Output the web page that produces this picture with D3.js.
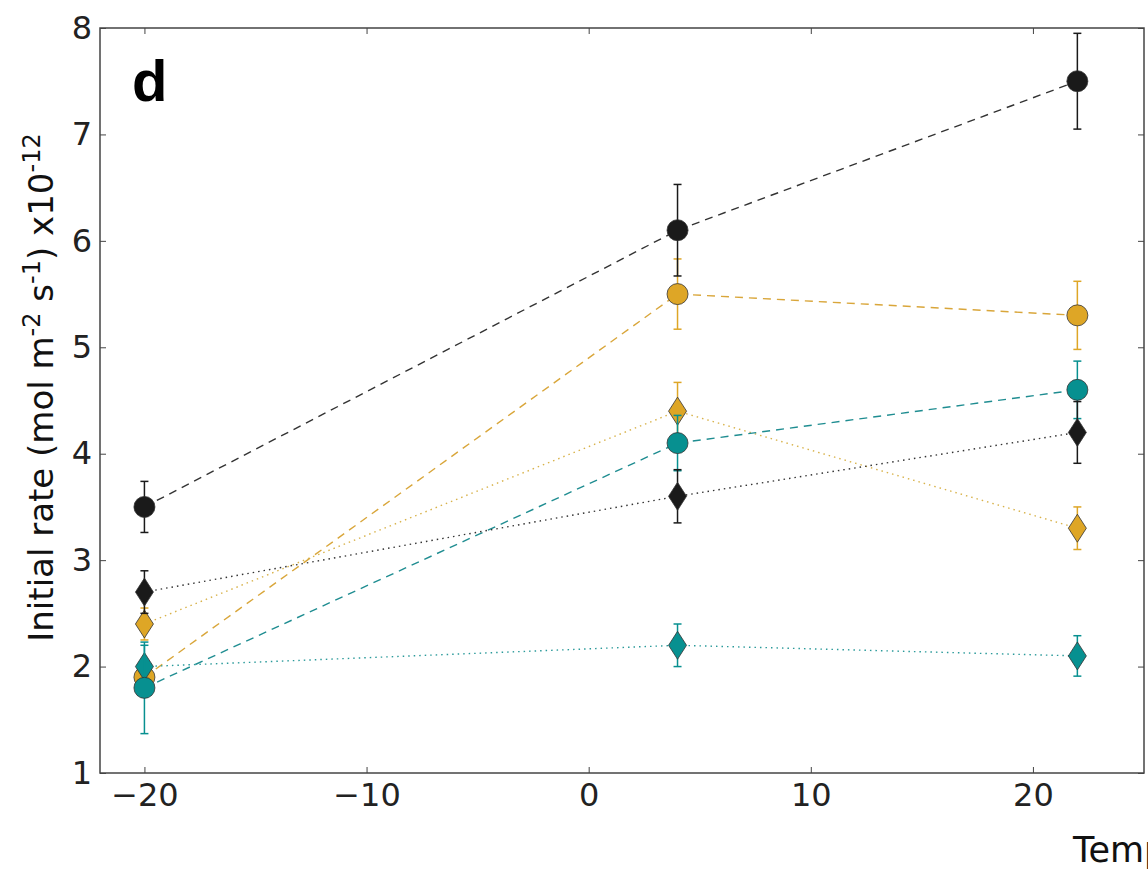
<!DOCTYPE html>
<html>
<head>
<meta charset="utf-8">
<script src="https://cdn.jsdelivr.net/npm/d3@7"></script>
<style>
  html, body { margin: 0; padding: 0; background: #fff; overflow: hidden; }
  #chart { width: 1148px; height: 872px; }
  .axis text { font-family: "DejaVu Sans", sans-serif; font-size: 32px; fill: #222; }
  .axis path, .axis line { stroke: #444; }
</style>
</head>
<body>
<div id="chart"></div>
<script>
// temperatures (°C)
const temperature = [-20, 4, 22];

// initial rates x1e-12 and their error bars
const blackCircleRate = [3.5, 6.1, 7.5];
const blackCircleErr = [0.24, 0.43, 0.45];
const orangeCircleRate = [1.9, 5.5, 5.3];
const orangeCircleErr = [0.15, 0.33, 0.32];
const tealCircleRate = [1.8, 4.1, 4.6];
const tealCircleErr = [0.43, 0.26, 0.27];
const blackDiamondRate = [2.7, 3.6, 4.2];
const blackDiamondErr = [0.2, 0.25, 0.29];
const orangeDiamondRate = [2.4, 4.4, 3.3];
const orangeDiamondErr = [0.15, 0.27, 0.2];
const tealDiamondRate = [2.0, 2.2, 2.1];
const tealDiamondErr = [0.2, 0.2, 0.19];

const xTicks = [-20, -10, 0, 10, 20];
const yTicks = [1, 2, 3, 4, 5, 6, 7, 8];

const black = "#1a1a1a";
const orange = "#dea626";
const teal = "#079090";

// drawing order, as stacked in the figure
const series = [
  { rate: orangeCircleRate, err: orangeCircleErr, color: orange, line: "#d9a63a", shape: "circle", dash: "8,6" },
  { rate: orangeDiamondRate, err: orangeDiamondErr, color: orange, line: "#d8b24a", shape: "diamond", dash: "1.5,4" },
  { rate: tealDiamondRate, err: tealDiamondErr, color: teal, line: "#2a9a9a", shape: "diamond", dash: "1.5,4" },
  { rate: tealCircleRate, err: tealCircleErr, color: teal, line: "#1f8d91", shape: "circle", dash: "8,6" },
  { rate: blackCircleRate, err: blackCircleErr, color: black, line: "#333", shape: "circle", dash: "8,6" },
  { rate: blackDiamondRate, err: blackDiamondErr, color: black, line: "#333", shape: "diamond", dash: "1.5,4" },
];

const width = 1148, height = 872;
const margin = { left: 100, right: 4, top: 28, bottom: 99 };
const innerWidth = width - margin.left - margin.right;
const innerHeight = height - margin.top - margin.bottom;

const svg = d3.select("#chart").append("svg")
  .attr("width", width).attr("height", height);

const g = svg.append("g")
  .attr("transform", `translate(${margin.left},${margin.top})`);

const x = d3.scaleLinear().domain([-22, 25]).range([0, innerWidth]);
const y = d3.scaleLinear().domain([1, 8]).range([innerHeight, 0]);

const fmt = (d) => (d < 0 ? "\u2212" + Math.abs(d) : "" + d);

// axes with inward ticks on all four sides
g.append("g").attr("class", "axis")
  .attr("transform", `translate(0,${innerHeight})`)
  .call(d3.axisBottom(x).tickValues(xTicks).tickFormat(fmt).tickSizeInner(-6).tickSizeOuter(0).tickPadding(10));
g.append("g").attr("class", "axis")
  .call(d3.axisLeft(y).tickValues(yTicks).tickFormat(d3.format("d")).tickSizeInner(-6).tickSizeOuter(0).tickPadding(8));
g.append("g").attr("class", "axis")
  .call(d3.axisTop(x).tickValues(xTicks).tickFormat("").tickSizeInner(-6).tickSizeOuter(0));
g.append("g").attr("class", "axis")
  .attr("transform", `translate(${innerWidth},0)`)
  .call(d3.axisRight(y).tickValues(yTicks).tickFormat("").tickSizeInner(-6).tickSizeOuter(0));
g.selectAll(".axis .domain").remove();
g.append("rect")
  .attr("width", innerWidth).attr("height", innerHeight)
  .attr("fill", "none").attr("stroke", "#444").attr("stroke-width", 1.5);

const line = d3.line().x((d) => x(d.t)).y((d) => y(d.v));
const diamond = (cx, cy) => `M${cx},${cy - 14}L${cx + 9},${cy}L${cx},${cy + 14}L${cx - 9},${cy}Z`;

series.forEach((s) => {
  const pts = temperature.map((t, i) => ({ t, v: s.rate[i], e: s.err[i] }));
  const sg = g.append("g");

  sg.append("path").datum(pts)
    .attr("d", line)
    .attr("fill", "none")
    .attr("stroke", s.line)
    .attr("stroke-width", 1.4)
    .attr("stroke-dasharray", s.dash);

  const bars = sg.selectAll(".bar").data(pts).join("g").attr("class", "bar")
    .attr("stroke", s.color).attr("stroke-width", 1.5);
  bars.append("line")
    .attr("x1", (d) => x(d.t)).attr("x2", (d) => x(d.t))
    .attr("y1", (d) => y(d.v - d.e)).attr("y2", (d) => y(d.v + d.e));
  bars.append("line")
    .attr("x1", (d) => x(d.t) - 4).attr("x2", (d) => x(d.t) + 4)
    .attr("y1", (d) => y(d.v + d.e)).attr("y2", (d) => y(d.v + d.e));
  bars.append("line")
    .attr("x1", (d) => x(d.t) - 4).attr("x2", (d) => x(d.t) + 4)
    .attr("y1", (d) => y(d.v - d.e)).attr("y2", (d) => y(d.v - d.e));

  if (s.shape === "circle") {
    sg.selectAll(".mark").data(pts).join("circle").attr("class", "mark")
      .attr("cx", (d) => x(d.t)).attr("cy", (d) => y(d.v)).attr("r", 10.5)
      .attr("fill", s.color).attr("stroke", "#333").attr("stroke-width", 0.8);
  } else {
    sg.selectAll(".mark").data(pts).join("path").attr("class", "mark")
      .attr("d", (d) => diamond(x(d.t), y(d.v)))
      .attr("fill", s.color).attr("stroke", "#333").attr("stroke-width", 0.8);
  }
});

// panel letter
svg.append("text")
  .attr("x", 132).attr("y", 101)
  .style("font-family", "Liberation Sans, Arial, sans-serif")
  .style("font-weight", "bold").style("font-size", "58px")
  .text("d");

// y label
const yl = svg.append("text")
  .attr("transform", `translate(53,${margin.top + innerHeight / 2 - 13}) rotate(-90)`)
  .attr("text-anchor", "middle")
  .style("font-family", "DejaVu Sans, sans-serif").style("font-size", "34px").style("fill", "#111");
yl.append("tspan").text("Initial rate (mol m");
yl.append("tspan").attr("dy", -13).style("font-size", "24px").text("-2");
yl.append("tspan").attr("dy", 13).text(" s");
yl.append("tspan").attr("dy", -13).style("font-size", "24px").text("-1");
yl.append("tspan").attr("dy", 13).text(") x10");
yl.append("tspan").attr("dy", -13).style("font-size", "24px").text("-12");

// x label (cut by the page edge as in the figure)
svg.append("text")
  .attr("x", 1073).attr("y", 862)
  .style("font-family", "DejaVu Sans, sans-serif").style("font-size", "35px").style("fill", "#111")
  .text("Temperature (\u00b0C)");
</script>
</body>
</html>
